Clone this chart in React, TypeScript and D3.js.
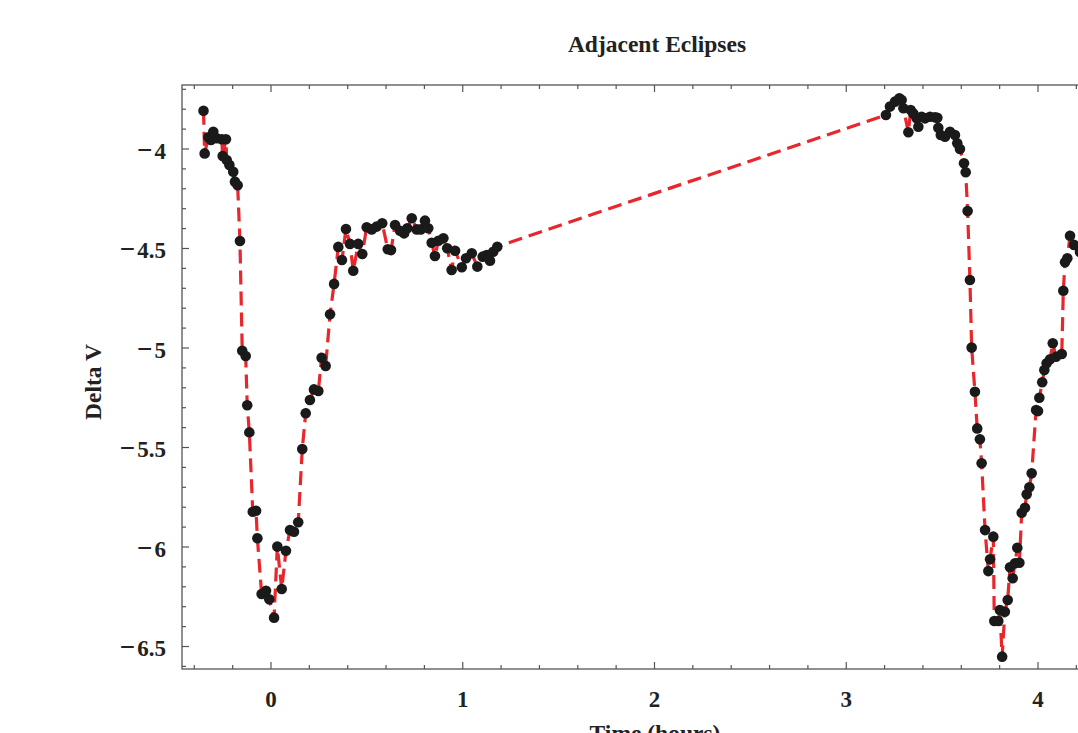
import React from "react";
import * as d3 from "d3";

const title = "Adjacent Eclipses";
const xLabel = "Time (hours)";
const yLabel = "Delta V";

const timeHours = [
  -0.352, -0.346, -0.327, -0.313, -0.301, -0.283, -0.257, -0.252, -0.235, -0.231,
  -0.217, -0.197, -0.188, -0.174, -0.162, -0.15, -0.132, -0.124, -0.113, -0.095,
  -0.078, -0.071, -0.049, -0.026, -0.009, 0.016, 0.033, 0.056, 0.078, 0.099,
  0.12, 0.142, 0.163, 0.181, 0.203, 0.224, 0.247, 0.264, 0.285, 0.308,
  0.329, 0.351, 0.37, 0.391, 0.412, 0.429, 0.455, 0.476, 0.499, 0.525,
  0.551, 0.58, 0.609, 0.626, 0.647, 0.673, 0.694, 0.711, 0.734, 0.76,
  0.781, 0.803, 0.82, 0.838, 0.855, 0.873, 0.899, 0.919, 0.942, 0.96,
  0.995, 1.017, 1.047, 1.076, 1.104, 1.125, 1.142, 1.159, 1.18,
  3.207, 3.228, 3.254, 3.277, 3.289, 3.298, 3.324, 3.336, 3.35, 3.367,
  3.376, 3.393, 3.411, 3.437, 3.463, 3.475, 3.48, 3.493, 3.515, 3.541,
  3.567, 3.579, 3.593, 3.614, 3.623, 3.633, 3.645, 3.654, 3.671, 3.683,
  3.697, 3.706, 3.724, 3.741, 3.75, 3.767, 3.772, 3.793, 3.801, 3.813,
  3.827, 3.842, 3.854, 3.868, 3.88, 3.892, 3.903, 3.915, 3.932, 3.941,
  3.955, 3.967, 3.99, 4.0, 4.007, 4.022, 4.033, 4.045, 4.063, 4.077,
  4.094, 4.124, 4.132, 4.141, 4.153, 4.167, 4.188, 4.219,
];

const deltaV = [
  -3.808, -4.022, -3.941, -3.955, -3.913, -3.946, -3.951, -4.035, -3.951, -4.055,
  -4.08, -4.114, -4.164, -4.182, -4.462, -5.014, -5.04, -5.288, -5.424, -5.823,
  -5.818, -5.956, -6.236, -6.22, -6.263, -6.355, -5.998, -6.211, -6.019, -5.915,
  -5.923, -5.876, -5.508, -5.328, -5.261, -5.208, -5.216, -5.049, -5.09, -4.831,
  -4.678, -4.492, -4.558, -4.402, -4.477, -4.612, -4.477, -4.528, -4.393, -4.404,
  -4.39, -4.373, -4.504, -4.508, -4.382, -4.411, -4.424, -4.398, -4.348, -4.404,
  -4.404, -4.36, -4.398, -4.471, -4.538, -4.461, -4.449, -4.499, -4.608, -4.511,
  -4.594, -4.549, -4.524, -4.591, -4.541, -4.533, -4.561, -4.516, -4.491,
  -3.829, -3.787, -3.762, -3.745, -3.754, -3.795, -3.916, -3.804, -3.821, -3.846,
  -3.888, -3.838, -3.846, -3.838, -3.841, -3.843, -3.893, -3.93, -3.938, -3.913,
  -3.93, -3.971, -4.0, -4.072, -4.117, -4.312, -4.658, -4.998, -5.22, -5.404,
  -5.459, -5.579, -5.915, -6.121, -6.062, -5.948, -6.372, -6.372, -6.317, -6.551,
  -6.325, -6.266, -6.102, -6.157, -6.082, -6.004, -6.079, -5.828, -5.803, -5.735,
  -5.7, -5.63, -5.312, -5.317, -5.25, -5.172, -5.111, -5.077, -5.057, -4.976,
  -5.044, -5.03, -4.712, -4.569, -4.549, -4.436, -4.482, -4.518,
];

const xTickValues = [0, 1, 2, 3, 4];
const yTickValues = [-4, -4.5, -5, -5.5, -6, -6.5];

const W = 1078;
const H = 733;
const left = 182;
const top = 85;
const bottom = 669;
const right = 1110;

const x = d3.scaleLinear().domain([0, 1]).range([271, 462.75]);
const y = d3.scaleLinear().domain([-4, -4.5]).range([149, 248.5]);

const font = "'Liberation Serif', 'DejaVu Serif', serif";

export default function App() {
  const data = timeHours.map((t, i) => ({ t, v: deltaV[i] }));
  const line = d3
    .line<{ t: number; v: number }>()
    .x((d) => x(d.t))
    .y((d) => y(d.v));

  const xMinor = d3
    .range(-4, 43)
    .map((k) => k / 10)
    .filter((v) => Math.abs(Math.round(v * 10) % 2) === 0)
    .filter((v) => x(v) > left + 2 && x(v) < right);
  const yMinor = d3
    .range(-66, -36)
    .map((k) => k / 10)
    .filter((v) => y(v) > top + 1 && y(v) < bottom - 1);

  const isMajorX = (v: number) => Math.abs(v - Math.round(v)) < 1e-6;
  const isMajorY = (v: number) => Math.abs(v * 2 - Math.round(v * 2)) < 1e-6;

  const axisColor = "#555";
  const textColor = "#222";

  return (
    <svg
      width={W}
      height={H}
      style={{ position: "absolute", left: 0, top: 0, background: "#fff" }}
      viewBox={`0 0 ${W} ${H}`}
    >
      <rect x={0} y={0} width={W} height={H} fill="#fff" />
      <text
        x={657}
        y={52}
        textAnchor="middle"
        fontFamily={font}
        fontWeight="bold"
        fontSize={23.5}
        fill={textColor}
      >
        {title}
      </text>

      <rect
        x={left}
        y={top}
        width={right - left}
        height={bottom - top}
        fill="none"
        stroke={axisColor}
        strokeWidth={1.3}
      />

      {xMinor.map((v) => {
        const len = isMajorX(v) ? 7 : 4;
        return (
          <g key={"xt" + v}>
            <line x1={x(v)} x2={x(v)} y1={bottom} y2={bottom - len} stroke={axisColor} strokeWidth={1.2} />
            <line x1={x(v)} x2={x(v)} y1={top} y2={top + len} stroke={axisColor} strokeWidth={1.2} />
          </g>
        );
      })}
      {yMinor.map((v) => {
        const len = isMajorY(v) ? 7 : 4;
        return (
          <line key={"yt" + v} x1={left} x2={left + len} y1={y(v)} y2={y(v)} stroke={axisColor} strokeWidth={1.2} />
        );
      })}

      {xTickValues.map((v) => (
        <text
          key={"xl" + v}
          x={x(v)}
          y={707}
          textAnchor="middle"
          fontFamily={font}
          fontWeight="bold"
          fontSize={23}
          fill={textColor}
        >
          {String(v)}
        </text>
      ))}
      {yTickValues.map((v) => (
        <text
          key={"yl" + v}
          x={166}
          y={y(v) + 9.5}
          textAnchor="end"
          fontFamily={font}
          fontWeight="bold"
          fontSize={23}
          fill={textColor}
        >
          <tspan fontSize={27}>{"\u2212"}</tspan>
          <tspan dx={2}>{String(Math.abs(v))}</tspan>
        </text>
      ))}

      <text
        x={655}
        y={741}
        textAnchor="middle"
        fontFamily={font}
        fontWeight="bold"
        fontSize={23.5}
        fill={textColor}
      >
        {xLabel}
      </text>
      <text
        transform={`translate(101, 382) rotate(-90)`}
        textAnchor="middle"
        fontFamily={font}
        fontWeight="bold"
        fontSize={23.5}
        fill={textColor}
      >
        {yLabel}
      </text>

      <path
        d={line(data) || ""}
        fill="none"
        stroke="#e8262b"
        strokeWidth={3.2}
        strokeDasharray="14,7"
      />
      {data.map((d, i) => (
        <circle key={i} cx={x(d.t)} cy={y(d.v)} r={5.3} fill="#1a1a1a" />
      ))}
    </svg>
  );
}
